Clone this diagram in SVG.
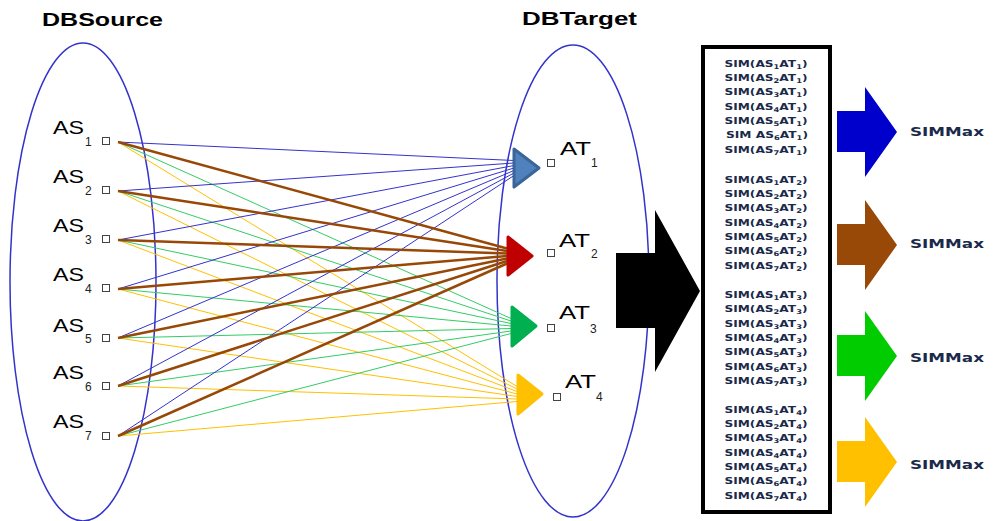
<svg xmlns="http://www.w3.org/2000/svg" width="994" height="521" viewBox="0 0 994 521">
<style>
.title{font-family:"Liberation Sans",Arial,sans-serif;font-weight:bold;font-size:19px;fill:#000}
.lbl{font-family:"Liberation Sans",Arial,sans-serif;font-size:18px;fill:#000}
.sub{font-family:"Liberation Sans",Arial,sans-serif;font-size:12px;fill:#222}
.sq{fill:#fff;stroke:#444;stroke-width:1}
.ell{fill:none;stroke:#3333cc;stroke-width:1.5}
.sim{font-family:"DejaVu Sans",sans-serif;font-weight:bold;font-size:9.5px;fill:#1b2a4a}
.simsub{font-size:6.5px}
.max{font-family:"DejaVu Sans",sans-serif;font-weight:bold;font-size:13px;fill:#1b2a4a}
.lb{stroke:#3333cc;stroke-width:1;fill:none}
.lr{stroke:#974806;stroke-width:2.5;fill:none}
.lg{stroke:#33cc66;stroke-width:1;fill:none}
.ly{stroke:#ffc000;stroke-width:1;fill:none}
.tri{stroke-width:3;stroke-linejoin:round}
</style>

<text class="title" x="42" y="26" textLength="121" lengthAdjust="spacingAndGlyphs">DBSource</text>
<text class="title" x="522" y="25" textLength="115" lengthAdjust="spacingAndGlyphs">DBTarget</text>

<ellipse id="dbsource" class="ell" cx="83" cy="282" rx="73" ry="239"/>
<ellipse id="dbtarget" class="ell" cx="573" cy="281" rx="76" ry="236"/>

<g id="connectors">
<g class="ly">
<line x1="118" y1="142" x2="517" y2="386.5"/>
<line x1="118" y1="191" x2="517" y2="389"/>
<line x1="118" y1="240" x2="517" y2="391.5"/>
<line x1="118" y1="289" x2="517" y2="394"/>
<line x1="118" y1="338" x2="517" y2="396.5"/>
<line x1="118" y1="386" x2="517" y2="399"/>
<line x1="118" y1="436" x2="517" y2="401.5"/>
</g>
<g class="lg">
<line x1="118" y1="142" x2="511" y2="318.5"/>
<line x1="118" y1="191" x2="511" y2="321"/>
<line x1="118" y1="240" x2="511" y2="323.5"/>
<line x1="118" y1="289" x2="511" y2="326"/>
<line x1="118" y1="338" x2="511" y2="328.5"/>
<line x1="118" y1="386" x2="511" y2="331"/>
<line x1="118" y1="436" x2="511" y2="333.5"/>
</g>
<g class="lb">
<line x1="118" y1="142" x2="514" y2="160.5"/>
<line x1="118" y1="191" x2="514" y2="163"/>
<line x1="118" y1="240" x2="514" y2="165.5"/>
<line x1="118" y1="289" x2="514" y2="168"/>
<line x1="118" y1="338" x2="514" y2="170.5"/>
<line x1="118" y1="386" x2="514" y2="173"/>
<line x1="118" y1="436" x2="514" y2="175.5"/>
</g>
<g class="lr">
<line x1="118" y1="142" x2="507" y2="248.5"/>
<line x1="118" y1="191" x2="507" y2="251"/>
<line x1="118" y1="240" x2="507" y2="253.5"/>
<line x1="118" y1="289" x2="507" y2="256"/>
<line x1="118" y1="338" x2="507" y2="258.5"/>
<line x1="118" y1="386" x2="507" y2="261"/>
<line x1="118" y1="436" x2="507" y2="263.5"/>
</g>
</g>

<g id="as1"><text class="lbl" x="53" y="134" textLength="31" lengthAdjust="spacingAndGlyphs">AS</text><text class="sub" x="85" y="146">1</text><rect class="sq" x="102.5" y="137.5" width="7" height="7"/></g>
<g id="as2"><text class="lbl" x="53" y="183" textLength="31" lengthAdjust="spacingAndGlyphs">AS</text><text class="sub" x="85" y="195">2</text><rect class="sq" x="102.5" y="186.5" width="7" height="7"/></g>
<g id="as3"><text class="lbl" x="53" y="232" textLength="31" lengthAdjust="spacingAndGlyphs">AS</text><text class="sub" x="85" y="244">3</text><rect class="sq" x="102.5" y="235.5" width="7" height="7"/></g>
<g id="as4"><text class="lbl" x="53" y="281" textLength="31" lengthAdjust="spacingAndGlyphs">AS</text><text class="sub" x="85" y="293">4</text><rect class="sq" x="102.5" y="284.5" width="7" height="7"/></g>
<g id="as5"><text class="lbl" x="53" y="332" textLength="31" lengthAdjust="spacingAndGlyphs">AS</text><text class="sub" x="85" y="343">5</text><rect class="sq" x="102.5" y="334.5" width="7" height="7"/></g>
<g id="as6"><text class="lbl" x="53" y="379" textLength="31" lengthAdjust="spacingAndGlyphs">AS</text><text class="sub" x="85" y="391">6</text><rect class="sq" x="102.5" y="382.5" width="7" height="7"/></g>
<g id="as7"><text class="lbl" x="53" y="428" textLength="31" lengthAdjust="spacingAndGlyphs">AS</text><text class="sub" x="85" y="440">7</text><rect class="sq" x="102.5" y="432.5" width="7" height="7"/></g>

<g id="at1"><polygon class="tri" points="514,149 539,168 514,187" fill="#4f81bd" stroke="#3a6598"/><rect class="sq" x="547.5" y="159.5" width="7" height="7"/><text class="lbl" x="560" y="155" textLength="31" lengthAdjust="spacingAndGlyphs">AT</text><text class="sub" x="591" y="167">1</text></g>
<g id="at2"><polygon class="tri" points="508,237 532,256 508,275" fill="#c00000" stroke="#c00000"/><rect class="sq" x="547.5" y="249.5" width="7" height="7"/><text class="lbl" x="559" y="247" textLength="31" lengthAdjust="spacingAndGlyphs">AT</text><text class="sub" x="591" y="258">2</text></g>
<g id="at3"><polygon class="tri" points="512,307 536,326 512,346" fill="#00b050" stroke="#00b050"/><rect class="sq" x="547.5" y="324.5" width="7" height="7"/><text class="lbl" x="559" y="319" textLength="31" lengthAdjust="spacingAndGlyphs">AT</text><text class="sub" x="590" y="333">3</text></g>
<g id="at4"><polygon class="tri" points="518,375 542,394 518,414" fill="#ffc000" stroke="#ffc000"/><rect class="sq" x="553.5" y="393.5" width="7" height="7"/><text class="lbl" x="565" y="388" textLength="31" lengthAdjust="spacingAndGlyphs">AT</text><text class="sub" x="596" y="401">4</text></g>

<g id="bigarrow"><polygon points="616,253 655,253 655,210 700,291 655,372 655,328 616,328" fill="#000"/></g>

<g id="simbox">
<rect x="703" y="47" width="127" height="465" fill="#fff" stroke="#000" stroke-width="4"/>
<g text-anchor="middle">
<text class="sim" x="766" y="67" textLength="83" lengthAdjust="spacingAndGlyphs">SIM(AS<tspan class="simsub" dy="2">1</tspan><tspan dy="-2">AT</tspan><tspan class="simsub" dy="2">1</tspan><tspan dy="-2">)</tspan></text>
<text class="sim" x="766" y="81" textLength="83" lengthAdjust="spacingAndGlyphs">SIM(AS<tspan class="simsub" dy="2">2</tspan><tspan dy="-2">AT</tspan><tspan class="simsub" dy="2">1</tspan><tspan dy="-2">)</tspan></text>
<text class="sim" x="766" y="95" textLength="83" lengthAdjust="spacingAndGlyphs">SIM(AS<tspan class="simsub" dy="2">3</tspan><tspan dy="-2">AT</tspan><tspan class="simsub" dy="2">1</tspan><tspan dy="-2">)</tspan></text>
<text class="sim" x="766" y="110" textLength="83" lengthAdjust="spacingAndGlyphs">SIM(AS<tspan class="simsub" dy="2">4</tspan><tspan dy="-2">AT</tspan><tspan class="simsub" dy="2">1</tspan><tspan dy="-2">)</tspan></text>
<text class="sim" x="766" y="124" textLength="83" lengthAdjust="spacingAndGlyphs">SIM(AS<tspan class="simsub" dy="2">5</tspan><tspan dy="-2">AT</tspan><tspan class="simsub" dy="2">1</tspan><tspan dy="-2">)</tspan></text>
<text class="sim" x="767" y="138" textLength="82" lengthAdjust="spacingAndGlyphs">SIM AS<tspan class="simsub" dy="2">6</tspan><tspan dy="-2">AT</tspan><tspan class="simsub" dy="2">1</tspan><tspan dy="-2">)</tspan></text>
<text class="sim" x="766" y="153" textLength="83" lengthAdjust="spacingAndGlyphs">SIM(AS<tspan class="simsub" dy="2">7</tspan><tspan dy="-2">AT</tspan><tspan class="simsub" dy="2">1</tspan><tspan dy="-2">)</tspan></text>

<text class="sim" x="766" y="183" textLength="83" lengthAdjust="spacingAndGlyphs">SIM(AS<tspan class="simsub" dy="2">1</tspan><tspan dy="-2">AT</tspan><tspan class="simsub" dy="2">2</tspan><tspan dy="-2">)</tspan></text>
<text class="sim" x="766" y="197" textLength="83" lengthAdjust="spacingAndGlyphs">SIM(AS<tspan class="simsub" dy="2">2</tspan><tspan dy="-2">AT</tspan><tspan class="simsub" dy="2">2</tspan><tspan dy="-2">)</tspan></text>
<text class="sim" x="766" y="211" textLength="83" lengthAdjust="spacingAndGlyphs">SIM(AS<tspan class="simsub" dy="2">3</tspan><tspan dy="-2">AT</tspan><tspan class="simsub" dy="2">2</tspan><tspan dy="-2">)</tspan></text>
<text class="sim" x="766" y="226" textLength="83" lengthAdjust="spacingAndGlyphs">SIM(AS<tspan class="simsub" dy="2">4</tspan><tspan dy="-2">AT</tspan><tspan class="simsub" dy="2">2</tspan><tspan dy="-2">)</tspan></text>
<text class="sim" x="766" y="240" textLength="83" lengthAdjust="spacingAndGlyphs">SIM(AS<tspan class="simsub" dy="2">5</tspan><tspan dy="-2">AT</tspan><tspan class="simsub" dy="2">2</tspan><tspan dy="-2">)</tspan></text>
<text class="sim" x="766" y="254" textLength="83" lengthAdjust="spacingAndGlyphs">SIM(AS<tspan class="simsub" dy="2">6</tspan><tspan dy="-2">AT</tspan><tspan class="simsub" dy="2">2</tspan><tspan dy="-2">)</tspan></text>
<text class="sim" x="766" y="269" textLength="83" lengthAdjust="spacingAndGlyphs">SIM(AS<tspan class="simsub" dy="2">7</tspan><tspan dy="-2">AT</tspan><tspan class="simsub" dy="2">2</tspan><tspan dy="-2">)</tspan></text>

<text class="sim" x="766" y="298" textLength="83" lengthAdjust="spacingAndGlyphs">SIM(AS<tspan class="simsub" dy="2">1</tspan><tspan dy="-2">AT</tspan><tspan class="simsub" dy="2">3</tspan><tspan dy="-2">)</tspan></text>
<text class="sim" x="766" y="312" textLength="83" lengthAdjust="spacingAndGlyphs">SIM(AS<tspan class="simsub" dy="2">2</tspan><tspan dy="-2">AT</tspan><tspan class="simsub" dy="2">3</tspan><tspan dy="-2">)</tspan></text>
<text class="sim" x="766" y="327" textLength="83" lengthAdjust="spacingAndGlyphs">SIM(AS<tspan class="simsub" dy="2">3</tspan><tspan dy="-2">AT</tspan><tspan class="simsub" dy="2">3</tspan><tspan dy="-2">)</tspan></text>
<text class="sim" x="766" y="341" textLength="83" lengthAdjust="spacingAndGlyphs">SIM(AS<tspan class="simsub" dy="2">4</tspan><tspan dy="-2">AT</tspan><tspan class="simsub" dy="2">3</tspan><tspan dy="-2">)</tspan></text>
<text class="sim" x="766" y="355" textLength="83" lengthAdjust="spacingAndGlyphs">SIM(AS<tspan class="simsub" dy="2">5</tspan><tspan dy="-2">AT</tspan><tspan class="simsub" dy="2">3</tspan><tspan dy="-2">)</tspan></text>
<text class="sim" x="766" y="370" textLength="83" lengthAdjust="spacingAndGlyphs">SIM(AS<tspan class="simsub" dy="2">6</tspan><tspan dy="-2">AT</tspan><tspan class="simsub" dy="2">3</tspan><tspan dy="-2">)</tspan></text>
<text class="sim" x="766" y="384" textLength="83" lengthAdjust="spacingAndGlyphs">SIM(AS<tspan class="simsub" dy="2">7</tspan><tspan dy="-2">AT</tspan><tspan class="simsub" dy="2">3</tspan><tspan dy="-2">)</tspan></text>

<text class="sim" x="766" y="413" textLength="83" lengthAdjust="spacingAndGlyphs">SIM(AS<tspan class="simsub" dy="2">1</tspan><tspan dy="-2">AT</tspan><tspan class="simsub" dy="2">4</tspan><tspan dy="-2">)</tspan></text>
<text class="sim" x="766" y="427" textLength="83" lengthAdjust="spacingAndGlyphs">SIM(AS<tspan class="simsub" dy="2">2</tspan><tspan dy="-2">AT</tspan><tspan class="simsub" dy="2">4</tspan><tspan dy="-2">)</tspan></text>
<text class="sim" x="766" y="441" textLength="83" lengthAdjust="spacingAndGlyphs">SIM(AS<tspan class="simsub" dy="2">3</tspan><tspan dy="-2">AT</tspan><tspan class="simsub" dy="2">4</tspan><tspan dy="-2">)</tspan></text>
<text class="sim" x="766" y="456" textLength="83" lengthAdjust="spacingAndGlyphs">SIM(AS<tspan class="simsub" dy="2">4</tspan><tspan dy="-2">AT</tspan><tspan class="simsub" dy="2">4</tspan><tspan dy="-2">)</tspan></text>
<text class="sim" x="766" y="470" textLength="83" lengthAdjust="spacingAndGlyphs">SIM(AS<tspan class="simsub" dy="2">5</tspan><tspan dy="-2">AT</tspan><tspan class="simsub" dy="2">4</tspan><tspan dy="-2">)</tspan></text>
<text class="sim" x="766" y="484" textLength="83" lengthAdjust="spacingAndGlyphs">SIM(AS<tspan class="simsub" dy="2">6</tspan><tspan dy="-2">AT</tspan><tspan class="simsub" dy="2">4</tspan><tspan dy="-2">)</tspan></text>
<text class="sim" x="766" y="499" textLength="83" lengthAdjust="spacingAndGlyphs">SIM(AS<tspan class="simsub" dy="2">7</tspan><tspan dy="-2">AT</tspan><tspan class="simsub" dy="2">4</tspan><tspan dy="-2">)</tspan></text>
</g>
</g>

<g id="max1"><polygon points="837,111 865,111 865,87 897,132 865,177 865,152 837,152" fill="#0000cc"/><text class="max" x="910" y="136" textLength="74" lengthAdjust="spacingAndGlyphs">SIMMax</text></g>
<g id="max2"><polygon points="837,224 865,224 865,200 897,245 865,290 865,265 837,265" fill="#984807"/><text class="max" x="910" y="248" textLength="74" lengthAdjust="spacingAndGlyphs">SIMMax</text></g>
<g id="max3"><polygon points="837,335 865,335 865,311 897,356 865,401 865,376 837,376" fill="#00cc00"/><text class="max" x="910" y="362" textLength="74" lengthAdjust="spacingAndGlyphs">SIMMax</text></g>
<g id="max4"><polygon points="837,441 865,441 865,417 897,462 865,507 865,482 837,482" fill="#ffc000"/><text class="max" x="910" y="469" textLength="74" lengthAdjust="spacingAndGlyphs">SIMMax</text></g>
</svg>
